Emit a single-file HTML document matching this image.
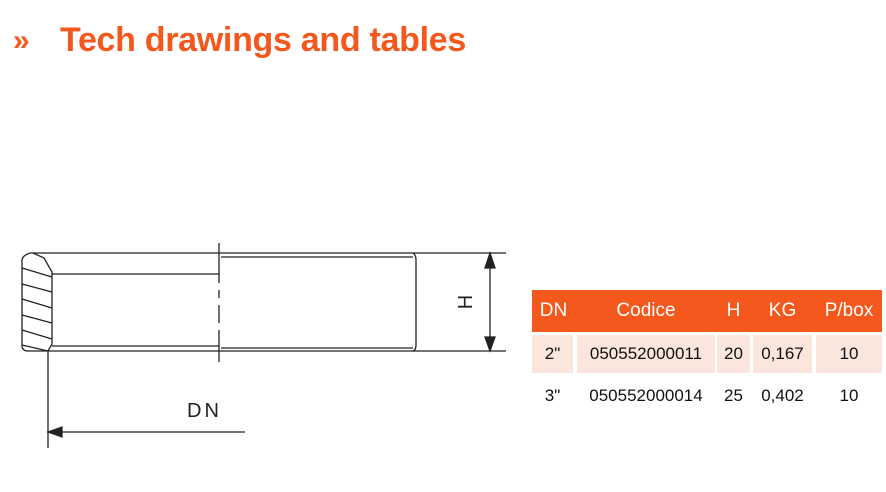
<!DOCTYPE html>
<html><head><style>
body{margin:0;width:886px;height:492px;background:#fff;position:relative;overflow:hidden;font-family:"Liberation Sans",sans-serif}
.t{position:absolute;left:60px;top:21px;color:#f4581c;font-weight:bold;font-size:34px;white-space:nowrap;letter-spacing:-0.3px}
.r{position:absolute;left:13px;top:24px;color:#f4581c;font-weight:bold;font-size:30px}
.c{position:absolute;display:flex;align-items:center;justify-content:center;font-size:17px;color:#111}
.h{background:#f4581c;color:#fff;font-size:19px}
.p{background:#fbe6dd}
</style></head><body>
<div class="r">»</div>
<div class="t">Tech drawings and tables</div>
<svg width="886" height="492" style="position:absolute;left:0;top:0" fill="none" stroke="#222" stroke-width="1.3">
<path d="M30 253 H506 M27 351 H506"/>
<path d="M52 274 H219 M52 346 H219 M221 257 H413 M221 348 H413"/>
<path d="M413 253 Q416 255 416 260 V345 Q416 350 413 351"/>
<path d="M30 253 Q21 256 22 262 V345 Q22 351 28 351"/>
<path d="M33 253 L44 258 L52 272 V344 L48 351"/>
<path d="M22 268 L52 277 M22 284 L52 292 M22 299 L52 308 M22 315 L52 323 M22 330 L52 339 M22 345 L48 351"/>
<path d="M219 243 V283 M219 290 V298 M219 305 V323 M219 330 V362"/>
<path d="M48 351 V448 M60 432 H245 M490 266 V340"/>
<path d="M48 432 L62 427 L62 437 Z" fill="#222"/>
<path d="M490 253 L485 268 L495 268 Z M490 351 L485 337 L495 337 Z" fill="#222"/>
<text x="187" y="417" font-size="20" fill="#222" stroke="none" font-family="Liberation Sans" letter-spacing="3">DN</text>
<text x="0" y="0" font-size="20" fill="#222" stroke="none" font-family="Liberation Sans" transform="translate(472,302) rotate(-90)" text-anchor="middle">H</text>
</svg>
<div class="c h" style="left:532px;top:290px;width:350px;height:42px"></div>
<div class="c h" style="left:532px;top:290px;width:43px;height:42px">DN</div>
<div class="c h" style="left:577px;top:290px;width:138px;height:42px">Codice</div>
<div class="c h" style="left:717px;top:290px;width:33px;height:42px">H</div>
<div class="c h" style="left:753px;top:290px;width:59px;height:42px">KG</div>
<div class="c h" style="left:816px;top:290px;width:66px;height:42px">P/box</div>
<div class="c p" style="left:532px;top:335px;width:41px;height:38px">2"</div>
<div class="c p" style="left:577px;top:335px;width:138px;height:38px">050552000011</div>
<div class="c p" style="left:717px;top:335px;width:33px;height:38px">20</div>
<div class="c p" style="left:753px;top:335px;width:59px;height:38px">0,167</div>
<div class="c p" style="left:816px;top:335px;width:66px;height:38px">10</div>
<div class="c" style="left:532px;top:377px;width:41px;height:38px">3"</div>
<div class="c" style="left:577px;top:377px;width:138px;height:38px">050552000014</div>
<div class="c" style="left:717px;top:377px;width:33px;height:38px">25</div>
<div class="c" style="left:753px;top:377px;width:59px;height:38px">0,402</div>
<div class="c" style="left:816px;top:377px;width:66px;height:38px">10</div>
</body></html>
